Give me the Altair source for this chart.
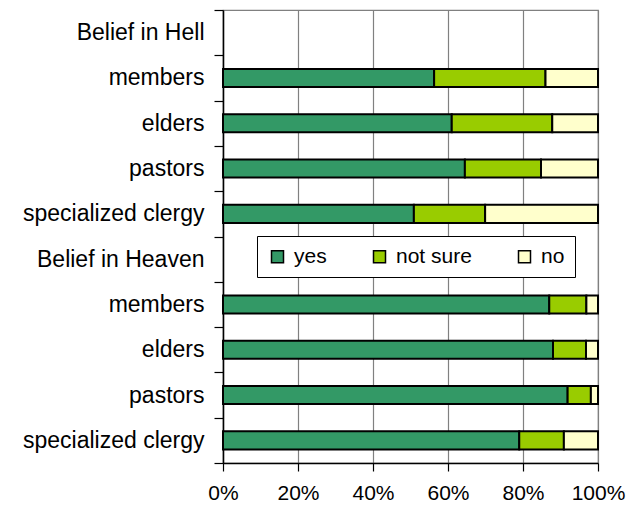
import altair as alt
import pandas as pd

# ---- data ----
rows = ["Belief in Hell", "members", "elders", "pastors", "specialized clergy",
        "Belief in Heaven", "members", "elders", "pastors", "specialized clergy"]
row_ids = [f"r{i}" for i in range(len(rows))]
yes = [None, 56.3, 61.0, 64.5, 50.9, None, 87.0, 88.0, 91.9, 79.0]
not_sure = [None, 29.7, 26.8, 20.3, 19.0, None, 9.9, 8.8, 6.2, 11.9]
no = [None, 14.0, 12.2, 15.2, 30.1, None, 3.1, 3.2, 1.9, 9.1]
answers = ["yes", "not sure", "no"]
colors = ["#339966", "#99CC00", "#FFFFCC"]
x_ticks = [0, 0.2, 0.4, 0.6, 0.8, 1.0]

records = []
for rid, a, b, c in zip(row_ids, yes, not_sure, no):
    for k, (ans, v) in enumerate(zip(answers, [a, b, c])):
        if v is not None:
            records.append({"row": rid, "answer": ans, "value": v, "k": k})
df = pd.DataFrame(records)

label_map = "{" + ",".join(f"'{r}':'{t}'" for r, t in zip(row_ids, rows)) + "}"
label_expr = f"{label_map}[datum.value]"

FONT = "Liberation Sans"

chart = alt.Chart(df).mark_bar(
    stroke="black", strokeWidth=2, height={"band": 0.4}
).encode(
    x=alt.X(
        "value:Q",
        stack="normalize",
        scale=alt.Scale(domain=[0, 1], nice=False),
        axis=alt.Axis(
            title=None, format=".0%", values=x_ticks, grid=True,
            gridColor="#808080", gridWidth=1.2, labelFlush=False,
            domainColor="black", domainWidth=1.5,
            tickColor="black", tickWidth=1.2, tickSize=8,
            labelFont=FONT, labelFontSize=21, labelColor="black", labelPadding=11,
        ),
    ),
    y=alt.Y(
        "row:N",
        sort=row_ids,
        scale=alt.Scale(domain=row_ids, paddingInner=0, paddingOuter=0),
        axis=alt.Axis(
            title=None, labelExpr=label_expr, grid=False, labelLimit=400,
            tickBand="extent", tickExtra=True,
            domainColor="black", domainWidth=1.5,
            tickColor="black", tickWidth=1.2, tickSize=9,
            labelFont=FONT, labelFontSize=23, labelColor="black", labelPadding=10,
        ),
    ),
    color=alt.Color(
        "answer:N",
        scale=alt.Scale(domain=answers, range=colors),
        legend=alt.Legend(
            title=None, orient="none", legendX=34, legendY=226,
            direction="horizontal", columns=3, padding=10,
            strokeColor="black", fillColor="white",
            symbolType="square", symbolSize=144,
            symbolStrokeColor="black", symbolStrokeWidth=1.5, symbolOpacity=1,
            labelFont=FONT, labelFontSize=21, labelColor="black",
            labelOffset=6, columnPadding=42,
        ),
    ),
    order=alt.Order("k:Q"),
).properties(
    width=375,
    height=453,
    padding={"left": 215, "top": 2, "right": 30, "bottom": 42},
    autosize=alt.AutoSizeParams(type="none"),
).configure_view(
    stroke="#808080", strokeWidth=1.2
)

chart.save("out.html", embed_options={"renderer": "svg", "actions": False})
